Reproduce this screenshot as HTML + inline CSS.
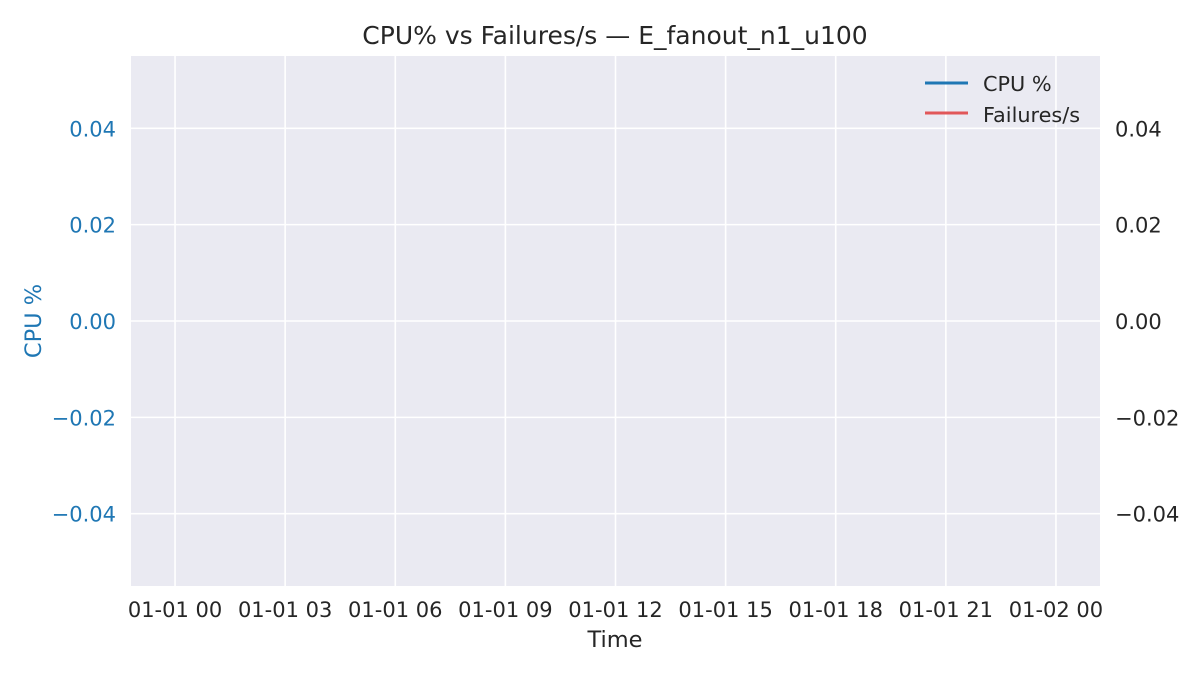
<!DOCTYPE html>
<html><head><meta charset="utf-8">
<style>
html,body{margin:0;padding:0;background:#fff;}
svg{display:block;font-family:"DejaVu Sans","Liberation Sans",sans-serif;}
</style></head>
<body>
<svg id="chart" width="1200" height="675" viewBox="0 0 1200 675">
  <rect x="131" y="56" width="969" height="530" fill="#eaeaf2"/>
  <g id="grid"></g>
  <g id="series"></g>
  <g id="ticks"></g>
  <text x="615" y="44" font-size="25" text-anchor="middle" fill="#262626">CPU% vs Failures/s — E_fanout_n1_u100</text>
  <text x="615" y="647" font-size="22.5" text-anchor="middle" fill="#262626">Time</text>
  <text x="33" y="321" font-size="22.5" text-anchor="middle" fill="#1f77b4" transform="rotate(-90 33 321)" dy="8">CPU %</text>
  <g>
    <g>
      <line x1="925" y1="83" x2="968" y2="83" stroke="#1f77b4" stroke-width="3"/>
      <text x="983" y="91" font-size="20.8" fill="#262626">CPU %</text>
    </g>
    <g>
      <line x1="925" y1="113" x2="968" y2="113" stroke="#e15759" stroke-width="3"/>
      <text x="983" y="122" font-size="20.8" fill="#262626">Failures/s</text>
    </g>
  </g>
</svg>
<script>
const xTickLabels = ["01-01 00","01-01 03","01-01 06","01-01 09","01-01 12","01-01 15","01-01 18","01-01 21","01-02 00"];
const xTickHours = [0,3,6,9,12,15,18,21,24];
const yTicks = [-0.04,-0.02,0.00,0.02,0.04];
const yTickLabels = ["\u22120.04","\u22120.02","0.00","0.02","0.04"];
const cpuHours = [];
const cpuValues = [];
const failHours = [];
const failValues = [];

const xDomain=[-1.2,25.2], yDomain=[-0.055,0.055];
const plot={l:131,r:1100,t:56,b:586};
function xs(h){return plot.l+(h-xDomain[0])/(xDomain[1]-xDomain[0])*(plot.r-plot.l);}
function ys(v){return plot.b-(v-yDomain[0])/(yDomain[1]-yDomain[0])*(plot.b-plot.t);}
const NS="http://www.w3.org/2000/svg";
const grid=document.getElementById('grid'), ticks=document.getElementById('ticks'), series=document.getElementById('series');
function mk(tag,attrs,parent){const e=document.createElementNS(NS,tag);for(const k in attrs)e.setAttribute(k,attrs[k]);parent.appendChild(e);return e;}
xTickHours.forEach((h,i)=>{
  const x=xs(h);
  const g=mk('line',{x1:x,x2:x,y1:plot.t,y2:plot.b,stroke:'#fff','stroke-width':1.6},grid);
  
  
  const t=mk('text',{x:x,y:617,'font-size':21,'text-anchor':'middle',fill:'#262626'},ticks);
  t.textContent=xTickLabels[i];
  
  
});
yTicks.forEach((v,i)=>{
  const y=ys(v);
  const g=mk('line',{x1:plot.l,x2:plot.r,y1:y,y2:y,stroke:'#fff','stroke-width':1.6},grid);
  
  
  const t=mk('text',{x:116,y:y+8,'font-size':21,'text-anchor':'end',fill:'#1f77b4'},ticks);
  t.textContent=yTickLabels[i];
  
  
  const t2=mk('text',{x:1115,y:y+8,'font-size':21,'text-anchor':'start',fill:'#262626'},ticks);
  t2.textContent=yTickLabels[i];
  
  
});
function drawLine(hs,vs,color,name){
  if(!hs.length)return;
  const p=mk('polyline',{points:hs.map((h,i)=>xs(h)+','+ys(vs[i])).join(' '),fill:'none',stroke:color,'stroke-width':2.5},series);
  
  
}
drawLine(cpuHours,cpuValues,'#1f77b4','cpu-line');
drawLine(failHours,failValues,'#e15759','failures-line');
</script>
</body></html>
